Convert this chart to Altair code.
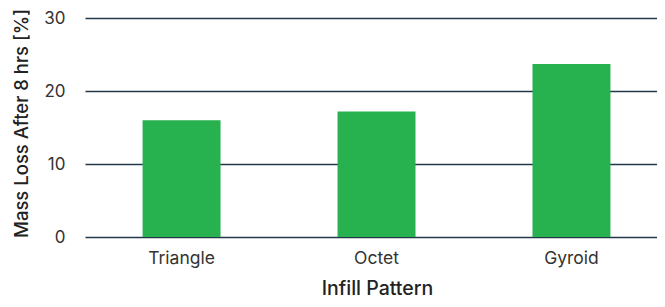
import altair as alt
import pandas as pd

patterns = ["Triangle", "Octet", "Gyroid"]
mass_loss = [16.0, 17.2, 23.7]

df = pd.DataFrame({"pattern": patterns, "loss": mass_loss})

chart = alt.Chart(df).mark_bar(color="#27b24f").encode(
    x=alt.X("pattern:N", sort=patterns,
            scale=alt.Scale(paddingInner=0.6, paddingOuter=0.267, align=0.553),
            axis=alt.Axis(title="Infill Pattern", labelAngle=0, ticks=False, domain=False,
                          labelFontSize=17.5, labelColor="#333333", labelPadding=12,
                          titleFontSize=19.5, titleFontWeight=500, titleColor="#222222",
                          titleX=292, titleY=57, titleBaseline="alphabetic",
                          labelFont="Inter", titleFont="Inter")),
    y=alt.Y("loss:Q", scale=alt.Scale(domain=[0, 30]),
            axis=alt.Axis(title="Mass Loss After 8 hrs [%]", values=[0, 10, 20, 30],
                          ticks=False, domain=False, grid=True,
                          gridColor="#23384a", gridWidth=1.5, gridOpacity=1,
                          labelFontSize=17, labelColor="#333333", labelPadding=20,
                          titleFontSize=18.5, titleFontWeight=500, titleColor="#222222",
                          titleX=-64, titleY=105, titleBaseline="middle", titleAlign="center",
                          labelFont="Inter", titleFont="Inter")),
).properties(
    width=572, height=219,
    autosize=alt.AutoSizeParams(type="none"),
    padding={"left": 77, "top": 10, "right": 0, "bottom": 62},
).configure_view(stroke=None)

chart.save("out.html", embed_options={"renderer": "svg", "actions": False})
